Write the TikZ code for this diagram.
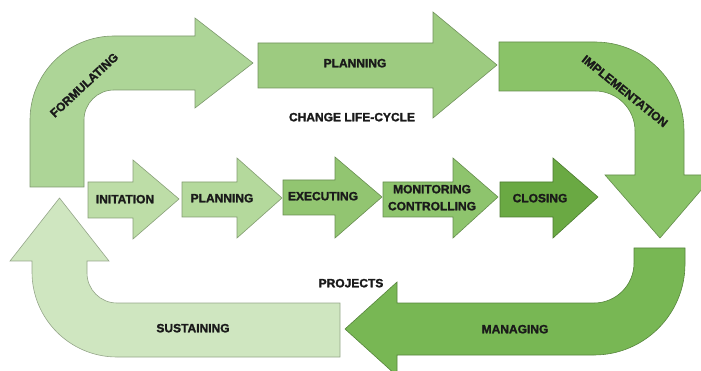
\documentclass[tikz,border=0pt]{standalone}
\usepackage{fontspec}
\setmainfont{Liberation Sans}[BoldFeatures={FakeBold=1.6}]
\definecolor{cForm}{HTML}{ADD597}
\definecolor{cPlanTop}{HTML}{9DCB80}
\definecolor{cImpl}{HTML}{8AC368}
\definecolor{cMan}{HTML}{78B754}
\definecolor{cSus}{HTML}{CFE6C0}
\definecolor{cIni}{HTML}{BDDDA7}
\definecolor{cPlan}{HTML}{B4D99C}
\definecolor{cExe}{HTML}{92C571}
\definecolor{cMon}{HTML}{8EC46D}
\definecolor{cClo}{HTML}{6AA943}
\definecolor{txt}{HTML}{1A1A1A}
\tikzset{
  shp/.style={fill=#1, draw=#1!72!black, line width=0.6pt, line join=miter},
  lbl/.style={font=\fontsize{12}{14}\selectfont\bfseries, text=txt, inner sep=0pt,
              text height=8.6pt, text depth=0pt, anchor=center}
}
\begin{document}
\begin{tikzpicture}[x=1pt,y=-1pt]
\useasboundingbox (0,0) rectangle (701,371);
% FORMULATING
\draw[shp=cForm] (30,187) -- (30,120) arc[start angle=180,end angle=270,radius=84]
  -- (195,36) -- (195,18) -- (253,63) -- (195,108) -- (195,90) -- (114,90)
  arc[start angle=270,end angle=180,radius=30] -- (84,187) -- cycle;
% PLANNING (top)
\draw[shp=cPlanTop] (258,43) -- (433,43) -- (433,12) -- (497,65) -- (433,118) -- (433,88) -- (258,88) -- cycle;
% IMPLEMENTATION
\draw[shp=cImpl] (499,42) -- (595,42) arc[start angle=270,end angle=360,radius=89]
  -- (684,175) -- (714,175) -- (660,238) -- (605,175) -- (635,175) -- (635,131)
  arc[start angle=0,end angle=-90,radius=40] -- (499,91) -- cycle;
% MANAGING
\draw[shp=cMan] (634,248) -- (685,248) -- (685,264) arc[start angle=0,end angle=90,radius=91]
  -- (397,355) -- (397,376) -- (345,329) -- (397,282) -- (397,303) -- (594,303)
  arc[start angle=90,end angle=0,radius=40] -- cycle;
% SUSTAINING
\draw[shp=cSus] (340,303) -- (340,357) -- (117,357) arc[start angle=90,end angle=180,radius=85]
  -- (32,261) -- (10,261) -- (59.5,198) -- (109,261) -- (87,261) -- (87,273)
  arc[start angle=180,end angle=90,radius=30] -- cycle;
% middle row
\draw[shp=cIni] (88,182) -- (133,182) -- (133,160) -- (179,199) -- (133,239) -- (133,218) -- (88,218) -- cycle;
\draw[shp=cPlan] (182,182) -- (237,182) -- (237,158) -- (282,198) -- (237,238) -- (237,217) -- (182,217) -- cycle;
\draw[shp=cExe] (283,180) -- (335,180) -- (335,157) -- (382,197) -- (335,238) -- (335,215) -- (283,215) -- cycle;
\draw[shp=cMon] (383,182) -- (453,182) -- (453,158) -- (498,197) -- (453,238) -- (453,217) -- (383,217) -- cycle;
\draw[shp=cClo] (500,182) -- (553,182) -- (553,158) -- (598,197) -- (553,238) -- (553,217) -- (500,217) -- cycle;
% labels
\node[lbl, rotate=43] (formulating) at (84,85) {FORMULATING};
\node[lbl] (planningtop) at (355,63) {PLANNING};
\node[lbl] (changelc) at (352,117) {CHANGE LIFE-CYCLE};
\node[lbl, rotate=-39] (implementation) at (625,91) {IMPLEMENTATION};
\node[lbl] (managing) at (515,329) {MANAGING};
\node[lbl] (projects) at (351,283) {PROJECTS};
\node[lbl] (sustaining) at (193,328) {SUSTAINING};
\node[lbl] (initation) at (125,199) {INITATION};
\node[lbl] (planning) at (222,198) {PLANNING};
\node[lbl] (executing) at (323,196) {EXECUTING};
\node[lbl] (monitoring) at (432,189) {MONITORING};
\node[lbl] (controlling) at (432,206) {CONTROLLING};
\node[lbl] (closing) at (540,198) {CLOSING};
\end{tikzpicture}
\end{document}
